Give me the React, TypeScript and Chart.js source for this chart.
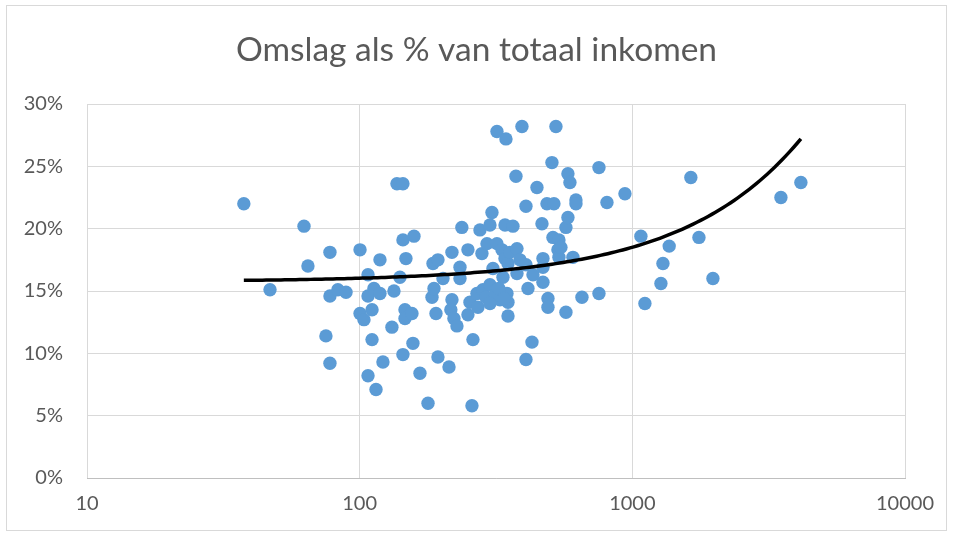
import React, { useEffect, useRef } from "react";
import { Chart, registerables } from "chart.js";

Chart.register(...registerables);

const TITLE = "Omslag als % van totaal inkomen";
const X_TICKS = [10, 100, 1000, 10000];
const Y_MIN = 0;
const Y_MAX = 30;
const Y_STEP = 5;

// inkomen (x, log axis)
const xValues = [
  37.6, 46.9, 62.5, 64.6, 77.8, 77.8, 75.2, 77.8, 83.2, 89.1,
  100.3, 100.3, 103.7, 107.3, 107.3, 111, 112.8, 118.7, 118.7, 111,
  107.3, 114.8, 121.7, 131.3, 133.6, 137, 144.1, 140.5, 144.1, 158.2,
  147.8, 146.6, 146.6, 155.5, 144.1, 156.8, 166.4, 178.1, 184.2, 185.7,
  187.3, 190.5, 193.7, 193.7, 202.1, 212.6, 218, 218, 216, 221.7,
  227.4, 237, 233.3, 233.3, 249.5, 249.5, 253.8, 258.1, 260.3, 269.2,
  271.5, 276.1, 280.8, 283.2, 293, 300.5, 300.5, 305.6, 305.6, 308.2,
  318.8, 344, 318.8, 318.8, 327, 332.6, 335.4, 341.2, 341.2, 346.9,
  349.9, 349.9, 349.9, 355.8, 364.9, 374.3, 377.5, 377.5, 387.1, 393.7,
  407.3, 407.3, 414.3, 407.3, 428.5, 432.1, 446.9, 466.2, 470.1, 470.1,
  470.1, 486.3, 490.4, 490.4, 507.2, 511.5, 515.8, 524.6, 533.5, 538,
  538, 547.2, 570.8, 570.8, 580.5, 580.5, 590.4, 605.6, 621.2, 621.2,
  653.5, 754.4, 754.4, 807.1, 939.5, 1075, 1112, 1273, 1295, 1365,
  1639, 1755, 1975, 3507, 4151, 290.5, 313.5, 324, 338, 300.5,
];

// omslag als % van totaal inkomen (y)
const yValues = [
  22.0, 15.1, 20.2, 17.0, 18.1, 14.6, 11.4, 9.2, 15.1, 14.9,
  18.3, 13.2, 12.7, 16.3, 14.6, 13.5, 15.2, 17.5, 14.8, 11.1,
  8.2, 7.1, 9.3, 12.1, 15.0, 23.6, 23.6, 16.1, 19.1, 19.4,
  17.6, 13.5, 12.8, 13.2, 9.9, 10.8, 8.4, 6.0, 14.5, 17.2,
  15.2, 13.2, 17.5, 9.7, 16.0, 8.9, 18.1, 14.3, 13.5, 12.8,
  12.2, 20.1, 16.9, 16.0, 18.3, 13.1, 14.1, 5.8, 11.1, 14.8,
  13.7, 19.9, 18.0, 15.1, 18.8, 20.3, 15.5, 21.3, 14.3, 16.8,
  27.8, 27.2, 18.8, 15.1, 14.3, 18.3, 16.1, 20.3, 17.6, 14.8,
  17.2, 14.1, 13.0, 18.1, 20.2, 24.2, 18.4, 16.4, 17.5, 28.2,
  21.8, 17.1, 15.2, 9.5, 10.9, 16.3, 23.3, 20.4, 17.6, 16.9,
  15.7, 22.0, 14.4, 13.7, 25.3, 19.3, 22.0, 28.2, 18.3, 19.1,
  17.7, 18.5, 20.1, 13.3, 20.9, 24.4, 23.7, 17.7, 22.3, 22.0,
  14.5, 24.9, 14.8, 22.1, 22.8, 19.4, 14.0, 15.6, 17.2, 18.6,
  24.1, 19.3, 16.0, 22.5, 23.7, 14.5, 14.7, 15.2, 14.4, 14.0,
];

// linear trendline (Excel): y = a + b * x
const TREND_INTERCEPT = 15.75;
const TREND_SLOPE = 0.00276;
const TREND_SAMPLES = 150;

const TEXT_COLOR = "#595959";
const GRID_COLOR = "#d9d9d9";
const POINT_COLOR = "#5B9BD5";
const FONT = "Lato";

export default function App() {
  const canvasRef = useRef<HTMLCanvasElement | null>(null);

  useEffect(() => {
    const canvas = canvasRef.current;
    if (!canvas) return;

    const points = xValues.map((x, i) => ({ x, y: yValues[i] }));
    const minX = Math.min(...xValues);
    const maxX = Math.max(...xValues);
    const trend: { x: number; y: number }[] = [];
    const l0 = Math.log10(minX);
    const l1 = Math.log10(maxX);
    for (let i = 0; i <= TREND_SAMPLES; i++) {
      const x = Math.pow(10, l0 + ((l1 - l0) * i) / TREND_SAMPLES);
      trend.push({ x, y: TREND_INTERCEPT + TREND_SLOPE * x });
    }

    const framePlugin = {
      id: "frame",
      beforeDraw(chart: any) {
        const ctx = chart.ctx;
        ctx.save();
        ctx.fillStyle = "#ffffff";
        ctx.fillRect(0, 0, chart.width, chart.height);
        ctx.strokeStyle = GRID_COLOR;
        ctx.lineWidth = 1;
        ctx.strokeRect(6.5, 5.5, 940, 525);
        ctx.fillStyle = TEXT_COLOR;
        ctx.font = `normal 33.5px ${FONT}`;
        ctx.textAlign = "center";
        ctx.textBaseline = "middle";
        ctx.fillText(TITLE, chart.width / 2, 50);
        ctx.restore();
      },
    };

    const chart = new Chart(canvas, {
      type: "scatter",
      data: {
        datasets: [
          {
            label: "Trend",
            data: trend,
            showLine: true,
            borderColor: "#000000",
            borderWidth: 3.5,
            pointRadius: 0,
            fill: false,
            tension: 0,
            order: 0,
          } as any,
          {
            label: "Omslag",
            data: points,
            backgroundColor: POINT_COLOR,
            borderColor: POINT_COLOR,
            borderWidth: 0,
            pointRadius: 6.7,
            order: 1,
          },
        ],
      },
      options: {
        responsive: false,
        animation: false,
        layout: { padding: { left: 0, right: 48, top: 104, bottom: 0 } },
        plugins: {
          legend: { display: false },
          tooltip: { enabled: false },
          title: { display: false },
        },
        scales: {
          x: {
            type: "logarithmic",
            min: X_TICKS[0],
            max: X_TICKS[X_TICKS.length - 1],
            afterBuildTicks: (scale: any) => {
              scale.ticks = X_TICKS.map((v) => ({ value: v, major: true }));
            },
            afterFit: (scale: any) => {
              scale.height = 55;
            },
            ticks: {
              autoSkip: false,
              maxRotation: 0,
              color: TEXT_COLOR,
              font: { family: FONT, size: 20 },
              padding: 14,
              callback: (v: any) => String(v),
            },
            grid: { color: GRID_COLOR, lineWidth: 1, drawTicks: false },
            border: { color: "#bfbfbf", width: 1 },
          },
          y: {
            min: Y_MIN,
            max: Y_MAX,
            afterFit: (scale: any) => {
              scale.width = 87;
            },
            ticks: {
              stepSize: Y_STEP,
              color: TEXT_COLOR,
              font: { family: FONT, size: 20 },
              padding: 24,
              callback: (v: any) => `${v}%`,
            },
            grid: { color: GRID_COLOR, lineWidth: 1, drawTicks: false },
            border: { display: false },
          },
        },
      },
      plugins: [framePlugin],
    });

    return () => chart.destroy();
  }, []);

  return (
    <div style={{ position: "fixed", left: 0, top: 0, width: 953, height: 533, background: "#fff" }}>
      <canvas ref={canvasRef} width={953} height={533} style={{ display: "block" }} />
    </div>
  );
}
